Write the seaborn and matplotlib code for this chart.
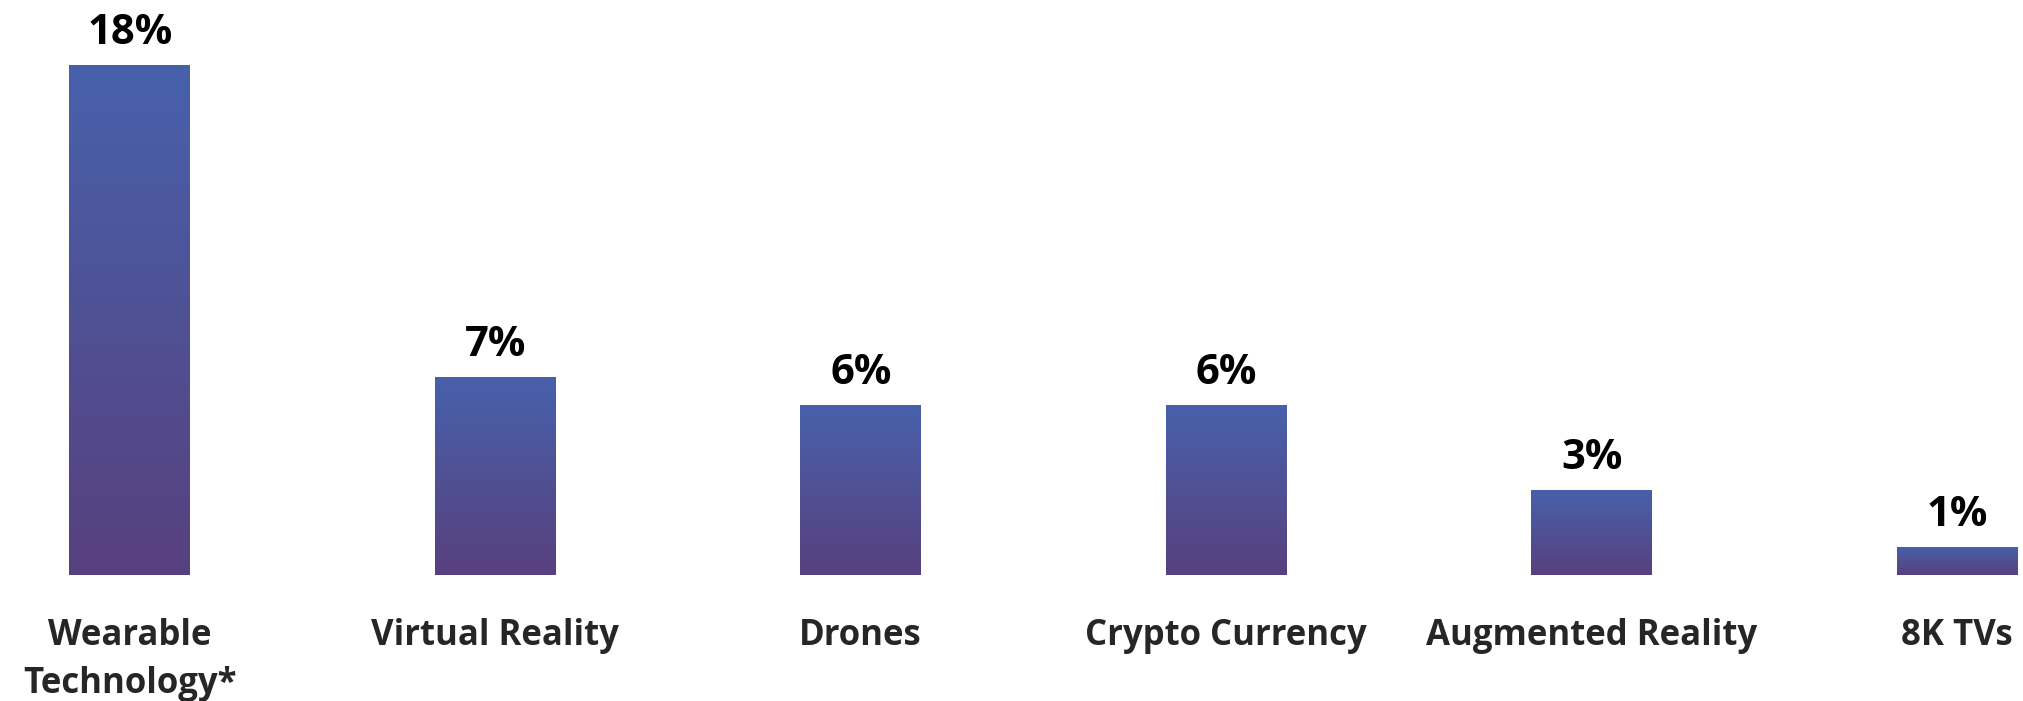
import numpy as np
import pandas as pd
import seaborn as sns
import matplotlib.pyplot as plt
from matplotlib.colors import LinearSegmentedColormap

categories = ["Wearable\nTechnology*", "Virtual Reality", "Drones",
              "Crypto Currency", "Augmented Reality", "8K TVs"]
values = [18, 7, 6, 6, 3, 1]

df = pd.DataFrame({"category": categories, "share": values})

sns.set_style("white")
plt.rcParams['font.family'] = ['Open Sans', 'DejaVu Sans']

fig = plt.figure(figsize=(20.23, 7.01), dpi=100)
ax = fig.add_axes([0, 0.1797, 1, 0.8085])

sns.barplot(data=df, x="category", y="share", ax=ax, width=0.33,
            color="#4f52a0", edgecolor="none")

# vertical gradient inside each bar (blue top -> purple bottom)
cmap = LinearSegmentedColormap.from_list("grad", ["#58407E", "#4761AB"])
grad = np.linspace(0, 1, 256).reshape(-1, 1)
for p in ax.patches:
    x0, w, h = p.get_x(), p.get_width(), p.get_height()
    im = ax.imshow(grad, cmap=cmap, origin="lower", aspect="auto",
                   extent=[x0, x0 + w, 0, h], zorder=p.get_zorder() + 0.1)
    im.set_clip_path(p)

ax.bar_label(ax.containers[0], labels=[f"{v}%" for v in values],
             padding=8, fontsize=30, fontweight="bold", color="black")

ax.set_xlim(-0.355, 5.18)
ax.set_ylim(0, 20)
ax.set_xlabel("")
ax.set_ylabel("")
ax.set_yticks([])
ax.tick_params(axis="x", length=0, pad=31)
for lab in ax.get_xticklabels():
    lab.set_fontsize(25)
    lab.set_fontweight("bold")
    lab.set_linespacing(1.45)
sns.despine(ax=ax, left=True, bottom=True)

fig.savefig("out.png", dpi=100, facecolor="white")
